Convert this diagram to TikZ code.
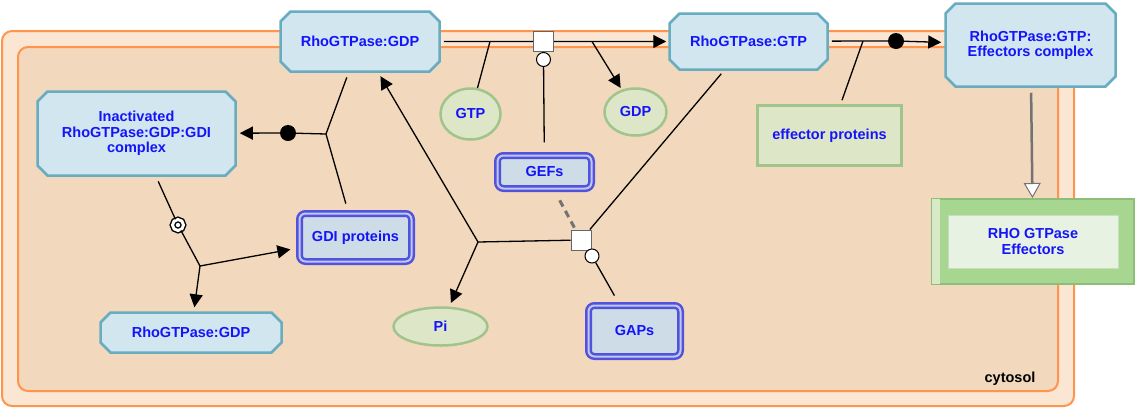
\documentclass[tikz,border=0pt]{standalone}
\usepackage{fontspec}
\setmainfont{Liberation Sans}
\usetikzlibrary{shapes.misc,shapes.geometric,arrows.meta,positioning}
\definecolor{cytoline}{RGB}{255,148,76}
\definecolor{cytoouter}{RGB}{250,230,210}
\definecolor{cytoinner}{RGB}{242,216,188}
\definecolor{protline}{RGB}{104,172,192}
\definecolor{protfill}{RGB}{210,230,240}
\definecolor{nodetext}{RGB}{20,20,250}
\definecolor{molline}{RGB}{160,196,140}
\definecolor{molfill}{RGB}{222,230,200}
\definecolor{cplxline}{RGB}{82,82,220}
\definecolor{cplxgap}{RGB}{190,200,240}
\definecolor{cplxfill}{RGB}{205,220,230}
\definecolor{pathfill}{RGB}{166,214,144}
\definecolor{pathline}{RGB}{140,190,120}
\definecolor{pathinner}{RGB}{232,242,226}
\definecolor{pathstrip}{RGB}{214,234,200}
\begin{document}
\begin{tikzpicture}[x=1pt,y=-1pt]
    \useasboundingbox (0,0) rectangle (1136,408);
    \tikzstyle{compartment} = [rounded corners=10pt, line width=2pt, draw=cytoline]
    \draw [compartment, fill=cytoouter] (2,31) rectangle (1074,406);
    \draw [compartment, fill=cytoinner] (18,47) rectangle (1058,391);
    \node (cytosol) [font=\bfseries\fontsize{14.5}{15.5}\selectfont] at (1010,379) {cytosol};

    \tikzstyle{protein} = [chamfered rectangle, chamfered rectangle xsep=5pt, chamfered rectangle ysep=5pt, draw=protline, fill=protfill, line width=2.5pt, text=nodetext, font=\bfseries\fontsize{14.5}{15.5}\selectfont, align=center, inner sep=0pt]
    \node (gdp) [protein, minimum width=159pt, minimum height=60pt] at (360,41.5) {RhoGTPase:GDP};
    \node (gtp) [protein, minimum width=158pt, minimum height=56pt] at (748.5,41.5) {RhoGTPase:GTP};
    \node (effcx) [protein, minimum width=170pt, minimum height=83pt] at (1030.5,45) {RhoGTPase:GTP:\\Effectors complex};
    \node (inact) [protein, minimum width=198pt, minimum height=84pt] at (136.5,133.5) {Inactivated\\RhoGTPase:GDP:GDI\\complex};
    \node (gdpfree) [protein, minimum width=181pt, minimum height=40pt] at (191,332.5) {RhoGTPase:GDP};

    \tikzstyle{molecule} = [ellipse, draw=molline, fill=molfill, line width=2.5pt, text=nodetext, font=\bfseries\fontsize{14.5}{15.5}\selectfont, inner sep=0pt]
    \node (gtpmol) [molecule, minimum width=60pt, minimum height=51pt] at (470.5,114) {GTP};
    \node (gdpmol) [molecule, minimum width=62pt, minimum height=47pt] at (635.5,112) {GDP};
    \node (pimol) [molecule, minimum width=94pt, minimum height=38pt] at (440.5,326.5) {Pi};

    \tikzstyle{cplx} = [rectangle, rounded corners=6pt, draw=cplxline, double=cplxgap, double distance=2pt, line width=2.5pt, fill=cplxfill, text=nodetext, font=\bfseries\fontsize{14.5}{15.5}\selectfont, inner sep=0pt]
    \node (gefs) [cplx, minimum width=94pt, minimum height=33pt] at (544.5,172) {GEFs};
    \node (gdi) [cplx, minimum width=112pt, minimum height=48pt] at (355.5,237.5) {GDI proteins};
    \node (gaps) [cplx, minimum width=92pt, minimum height=51pt] at (634.5,331) {GAPs};

    \node (effprot) [rectangle, draw=molline, fill=molfill, line width=3pt, text=nodetext, font=\bfseries\fontsize{14.5}{15.5}\selectfont, minimum width=144pt, minimum height=60pt, inner sep=0pt] at (829.5,135.5) {effector proteins};

    \node (effpw) [rectangle, draw=pathline, fill=pathfill, line width=2pt, minimum width=202pt, minimum height=85pt] at (1033,241.5) {};
    \fill [pathstrip] (932,199) rectangle (940,284);
    \node (effpwin) [rectangle, draw=pathline!50, fill=pathinner, line width=1pt, text=nodetext, font=\bfseries\fontsize{14.5}{15.5}\selectfont, align=center, minimum width=170pt, minimum height=53pt, inner sep=0pt] at (1033,241.5) {RHO GTPase\\Effectors};

    \tikzstyle{procsq} = [rectangle, draw=black!60, fill=white, line width=1pt, minimum size=20pt, inner sep=0pt]
    \tikzstyle{procdot} = [circle, fill=black, minimum size=16pt, inner sep=0pt]
    \tikzstyle{catal} = [circle, draw=black, fill=white, line width=1pt, minimum size=14pt, inner sep=0pt]
    \tikzstyle{dissoc} = [circle, draw=black, double=white, double distance=3pt, line width=1.4pt, fill=white, minimum size=11pt, inner sep=0pt]
    \node (pact) [procsq] at (543.5,41.5) {};
    \node (phyd) [procsq] at (581,240) {};
    \node (pbind) [procdot] at (896,41) {};
    \node (pgdi) [procdot] at (288,133) {};
    \node (pdiss) [dissoc] at (178,225) {};
    \node (cgef) [catal, below=0pt of pact] {};
    \node (cgap) [catal] at (592,256) {};

    \coordinate (b1) at (490,41.5);
    \coordinate (b2) at (592,41.5);
    \coordinate (b3) at (863,41);
    \coordinate (b4) at (326,134);
    \coordinate (b5) at (200,266);
    \coordinate (b6) at (478,242);

    \tikzstyle{link} = [line width=1.3pt, black]
    \tikzstyle{arr} = [link, -{Triangle[length=13pt,width=13pt]}]
    \draw [link, shorten <=3pt] (gdp) -- (b1) -- (pact);
    \draw [link] (gtpmol) -- (b1);
    \draw [arr, shorten >=2pt] (pact) -- (b2) -- (gtp);
    \draw [arr, shorten >=2pt] (b2) -- (gdpmol);
    \draw [link, shorten <=12pt] (gefs) -- (cgef);

    \draw [link, shorten <=3pt] (gtp) -- (b3) -- (pbind);
    \draw [arr, shorten >=3pt] (pbind) -- (effcx);
    \draw [link, shorten >=4pt] (b3) -- (effprot);

    \draw [link, shorten <=5pt] (gdp) -- (b4);
    \draw [link, shorten <=9pt] (gdi) -- (b4);
    \draw [arr, shorten >=3pt] (b4) -- (pgdi) -- (inact);

    \draw [link, shorten <=5pt] (inact) -- (pdiss);
    \draw [link] (pdiss) -- (b5);
    \draw [arr, shorten >=8pt] (b5) -- (gdi);
    \draw [arr, shorten >=4pt] (b5) -- (gdpfree);

    \draw [link, shorten <=4pt] (gtp) -- (phyd);
    \draw [link] (phyd) -- (b6);
    \draw [arr, shorten >=4pt] (b6) -- (pimol);
    \draw [arr, shorten >=4pt] (b6) -- (gdp);
    \draw [link, shorten <=10pt] (gaps) -- (cgap);
    \draw [line width=3pt, black!55, dash pattern=on 7pt off 5pt, shorten <=12pt, shorten >=1pt] (gefs) -- (phyd);

    \draw [line width=2.5pt, black!55, -{Triangle[length=15pt,width=17pt,fill=white,line width=1pt]}, shorten <=5pt] (effcx) -- (effpw);
\end{tikzpicture}
\end{document}
